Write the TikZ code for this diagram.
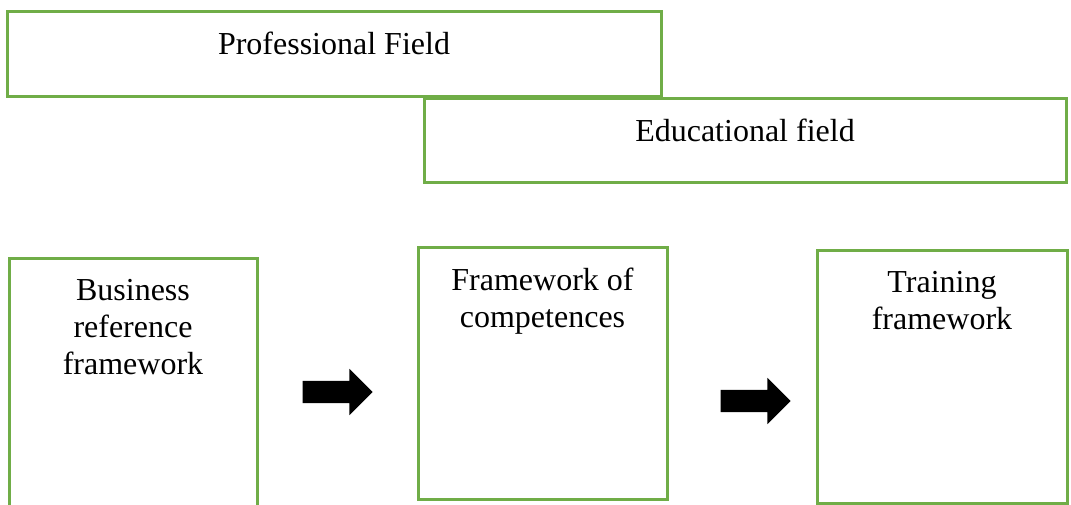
\documentclass[tikz,border=0pt]{standalone}
\usepackage{fontspec}
\setmainfont{Liberation Serif}
\usetikzlibrary{shapes.arrows}
\definecolor{fieldgreen}{RGB}{112,173,71}

\begin{document}
\begin{tikzpicture}[x=1pt,y=-1pt,
  field/.style={rectangle,draw=fieldgreen,line width=3pt,inner sep=0pt,outer sep=0pt},
  caption/.style={anchor=north,inner sep=0pt,yshift=-21pt,align=center,
    font=\fontsize{32}{37}\selectfont},
  fatarrow/.style={single arrow,fill=black,draw=none,inner xsep=0pt,inner ysep=11pt,
    minimum height=70pt,minimum width=46pt,single arrow head extend=12pt}]
  \useasboundingbox (0,0) rectangle (1071,504);
  \clip (0,0) rectangle (1071,504);
  \node[field,minimum width=654pt,minimum height=85pt,
    label={[caption]north:Professional Field}] (prof) at (334,53.5) {};
  \node[field,minimum width=642pt,minimum height=84pt,
    label={[caption]north:Educational field}] (edu) at (745,140) {};
  \node[field,minimum width=248pt,minimum height=252pt,
    label={[caption]north:{Business\\reference\\framework}}] (business) at (133,384) {};
  \node[field,minimum width=249pt,minimum height=252pt,
    label={[caption]north:{Framework of\\competences}}] (compet) at (542.5,373) {};
  \node[field,minimum width=250pt,minimum height=253pt,
    label={[caption]north:{Training\\framework}}] (training) at (942,376.5) {};
  \node[fatarrow] (arrA) at (332,392) {};
  \node[fatarrow] (arrB) at (750,401) {};
\end{tikzpicture}
\end{document}
